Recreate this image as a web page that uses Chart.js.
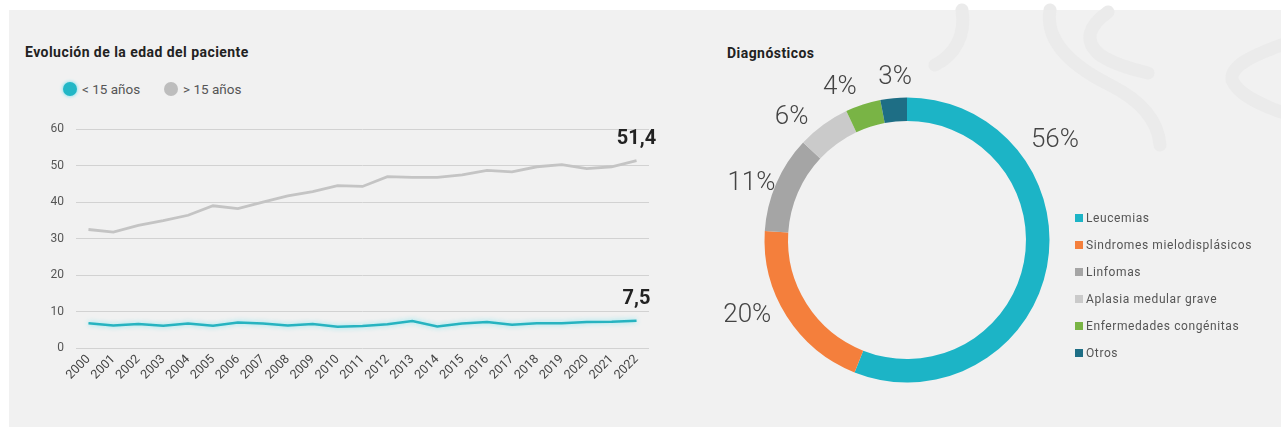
<!DOCTYPE html>
<html><head><meta charset="utf-8">
<script src="https://cdn.jsdelivr.net/npm/chart.js@4/dist/chart.umd.min.js"></script>
<style>
html,body{margin:0;padding:0;background:#fff;width:1281px;height:427px;overflow:hidden;font-family:Roboto,"Noto Sans",sans-serif;}
#panel{position:absolute;left:9px;top:10px;width:1272px;height:417px;background:#f1f1f1;}
#deco{position:absolute;left:0;top:0;}
.title{position:absolute;font-weight:700;font-size:14px;letter-spacing:0.45px;color:#222;white-space:nowrap;}
.lg{position:absolute;font-size:13.5px;color:#555;white-space:nowrap;display:flex;align-items:center;}
.dot{display:inline-block;width:14px;height:14px;border-radius:50%;margin-right:5px;}
#dlegend{position:absolute;left:1075px;top:211px;font-size:12px;color:#555;letter-spacing:0.6px;}
#dlegend div{height:27px;display:flex;align-items:flex-start;white-space:nowrap;}
#dlegend span.b{display:inline-block;width:8px;height:8px;margin:3px 3px 0 0;}
canvas{position:absolute;}
</style></head>
<body>
<div id="panel"></div>
<svg id="deco" width="1281" height="427">
 <g fill="none" stroke="#ebebeb" stroke-width="13" stroke-linecap="round">
  <path d="M1050 10 C1045 40, 1070 65, 1110 85 C1140 100, 1158 120, 1160 145"/>
  <path d="M1108 12 C1090 25, 1082 40, 1100 55 C1115 65, 1135 70, 1148 73"/>
  <path d="M1281 45 C1255 55, 1230 65, 1232 80 C1238 95, 1262 105, 1281 112"/>
  <path d="M962 10 C966 35, 955 55, 935 65"/>
 </g>
</svg>
<div class="title" style="left:25px;top:44px;">Evolución de la edad del paciente</div>
<div class="lg" style="left:63px;top:81px;"><span class="dot" style="background:#22b7c6;box-shadow:0 0 3px 1px #9fe6ee;"></span>&lt; 15 años</div>
<div class="lg" style="left:164px;top:81px;"><span class="dot" style="background:#bdbdbd;"></span>&gt; 15 años</div>
<div class="title" style="left:727px;top:45px;">Diagnósticos</div>
<canvas id="line" width="660" height="300" style="left:20px;top:110px;"></canvas>
<canvas id="donut" width="400" height="400" style="left:707px;top:40px;"></canvas>
<div id="dlegend"></div>
<script>
const years = ['2000','2001','2002','2003','2004','2005','2006','2007','2008','2009','2010','2011','2012','2013','2014','2015','2016','2017','2018','2019','2020','2021','2022'];
const under15 = [6.8,6.2,6.6,6.1,6.7,6.1,7.0,6.7,6.2,6.6,5.8,6.0,6.5,7.4,5.9,6.7,7.1,6.4,6.8,6.8,7.1,7.2,7.5];
const over15 = [32.5,31.8,33.6,34.9,36.4,39.0,38.2,40.0,41.7,42.9,44.5,44.3,47.0,46.8,46.8,47.5,48.7,48.3,49.7,50.3,49.2,49.7,51.4];
const seriesNames = ['< 15 años','> 15 años'];
const lastLabels = ['7,5','51,4'];
const yTicks = [0,10,20,30,40,50,60];

const diagnosisLabels = ['Leucemias','Sindromes mielodisplásicos','Linfomas','Aplasia medular grave','Enfermedades congénitas','Otros'];
const diagnosisValues = [56,20,11,6,4,3];
const diagnosisColors = ['#1cb4c6','#f47f3c','#a5a5a5','#cacaca','#79b445','#1e6e85'];

const glowPlugin = {
  id:'glow',
  beforeDatasetDraw(chart,args){
    if(args.index===0){chart.ctx.save();chart.ctx.shadowColor='rgba(120,230,240,0.9)';chart.ctx.shadowBlur=5;}
  },
  afterDatasetDraw(chart,args){ if(args.index===0){chart.ctx.restore();} }
};
const endLabelPlugin = {
  id:'endLabel',
  afterDatasetsDraw(chart){
    const ctx=chart.ctx;
    chart.data.datasets.forEach((ds,i)=>{
      const meta=chart.getDatasetMeta(i);
      const p=meta.data[meta.data.length-1];
      ctx.save();
      ctx.font='700 20px Roboto';
      ctx.fillStyle='#222';
      ctx.textAlign='center';
      ctx.textBaseline='bottom';
      ctx.fillText(lastLabels[i],p.x,p.y-12);
      ctx.restore();
    });
  }
};

new Chart(document.getElementById('line'),{
  type:'line',
  data:{labels:years,datasets:[
    {label:seriesNames[0],data:under15,borderColor:'#27b3c0',borderWidth:2.5,pointRadius:0,tension:0},
    {label:seriesNames[1],data:over15,borderColor:'#c4c4c4',borderWidth:2.8,pointRadius:0,tension:0}
  ]},
  options:{
    responsive:false,animation:false,
    layout:{padding:{top:16,right:31,left:0,bottom:0}},
    plugins:{legend:{display:false},tooltip:{enabled:false}},
    scales:{
      x:{offset:true,grid:{display:false,drawTicks:false},border:{display:false},
         ticks:{autoSkip:false,minRotation:45,maxRotation:45,padding:4,color:'#444',font:{family:'Roboto',size:12.5}},
         afterFit(s){s.height=62;}},
      y:{min:0,max:60,afterBuildTicks(s){s.ticks=yTicks.map(v=>({value:v}));},
         grid:{color:'#d2d2d2',lineWidth:1,drawTicks:false},border:{display:false},
         ticks:{padding:12,color:'#555',font:{family:'Roboto',size:12}},
         afterFit(s){s.width=56;}}
    }
  },
  plugins:[glowPlugin,endLabelPlugin]
});

const pctLabelPlugin = {
  id:'pctLabels',
  afterDatasetsDraw(chart,args,opts){
    const ctx=chart.ctx;
    const meta=chart.getDatasetMeta(0);
    meta.data.forEach((arc,i)=>{
      const mid=(arc.startAngle+arc.endAngle)/2 + opts.shift[i]*Math.PI/180;
      const r=arc.outerRadius+opts.gap[i];
      const x=arc.x+Math.cos(mid)*r, y=arc.y+Math.sin(mid)*r;
      ctx.save();
      ctx.font='300 26px Roboto';
      ctx.fillStyle='#444';
      ctx.textAlign='center';ctx.textBaseline='middle';
      ctx.fillText(diagnosisValues[i]+'%',x,y);
      ctx.restore();
    });
  }
};

new Chart(document.getElementById('donut'),{
  type:'doughnut',
  data:{labels:diagnosisLabels,datasets:[{data:diagnosisValues,backgroundColor:diagnosisColors,borderWidth:0}]},
  options:{
    responsive:false,animation:false,cutout:'83.5%',
    layout:{padding:57.5},
    plugins:{legend:{display:false},tooltip:{enabled:false},
      pctLabels:{shift:[-44.8,7.2,-3.4,-7.2,-5.8,1.2],gap:[36,34,23,26,24,20]}}
  },
  plugins:[pctLabelPlugin]
});

const lg=document.getElementById('dlegend');
diagnosisLabels.forEach((l,i)=>{
  const d=document.createElement('div');
  d.innerHTML='<span class="b" style="background:'+diagnosisColors[i]+'"></span>'+l;
  lg.appendChild(d);
});
</script>
</body></html>
